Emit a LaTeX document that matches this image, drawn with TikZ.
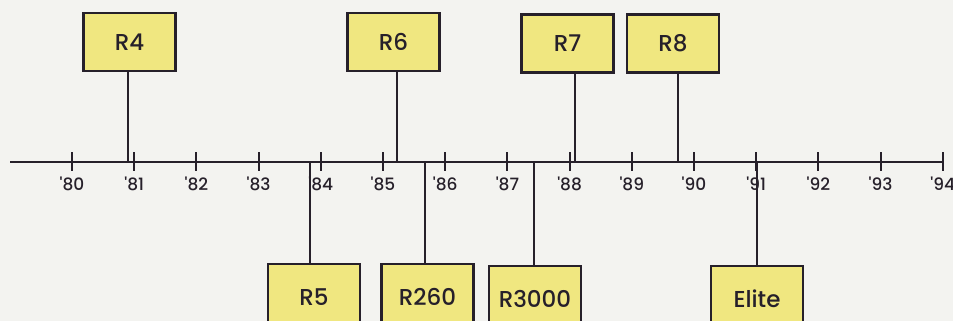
\documentclass[tikz,border=0pt]{standalone}
\usepackage{fontspec}
\setmainfont{Poppins}
\newfontfamily\pmed{Poppins Medium}
\usetikzlibrary{positioning}

\definecolor{relfill}{RGB}{240,231,128}
\definecolor{ink}{RGB}{38,32,42}
\definecolor{paper}{RGB}{243,243,240}

\begin{document}
\begin{tikzpicture}[
 x=1pt,y=-1pt,
 rel/.style={draw=ink,fill=relfill,line width=2.2pt,minimum width=92pt,
 minimum height=58pt,inner sep=0pt,text=ink,font=\pmed\fontsize{23}{27}\selectfont},
 low/.style={rel,anchor=north,minimum height=66pt},
 yr/.style={inner sep=1pt,text=ink,font=\pmed\fontsize{17}{19}\selectfont},
 stem/.style={draw=ink,line width=2pt}]
\clip (0,0) rectangle (953,321);
\fill[paper] (0,0) rectangle (953,321);
% time axis
\coordinate (axl) at (10,162);
\coordinate (axr) at (943,162);
\draw[stem] (axl)--(axr);
\foreach \yr [count=\i from 0] in {80,...,94}{
 \coordinate (t\yr) at (72+62.2*\i,162);
 \draw[stem] ([yshift=10pt]t\yr)--([yshift=-9pt]t\yr);
 \node[yr,below=14pt of t\yr] (l\yr) {'\yr};
}
% releases above
\node[rel] (r4) at (129.5,42) {R4};
\node[rel] (r6) at (393.5,42) {R6};
\node[rel] (r7) at (567.5,43.5) {R7};
\node[rel] (r8) at (673,43.5) {R8};
% releases below
\node[low] (r5) at (314,263) {R5};
\node[low] (r260) at (427.5,263) {R260};
\node[low] (r3000) at (535,265) {R3000};
\node[low] (elite) at (757,265) {Elite};
\foreach \n/\x in {r4/128,r6/397,r7/575,r8/678}{
 \coordinate (\n-ax) at (\x,162);
 \draw[stem] (\n-ax)--(\n-ax |- \n.south);
}
\foreach \n/\x in {r5/310,r260/425,r3000/534,elite/757}{
 \coordinate (\n-ax) at (\x,162);
 \draw[stem] (\n-ax)--(\n-ax |- \n.north);
}
\end{tikzpicture}
\end{document}
